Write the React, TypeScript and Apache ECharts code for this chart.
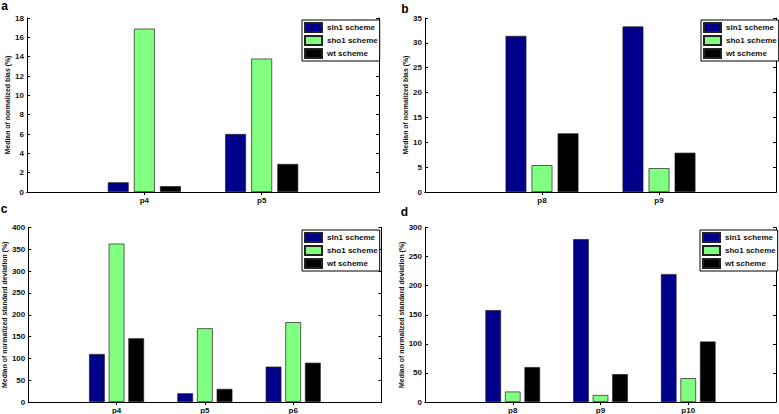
import React, { useEffect, useRef } from "react";
import * as echarts from "echarts";

const schemes = ["sln1 scheme", "sho1 scheme", "wt scheme"];
const colors = ["#000088", "#80ff80", "#000000"];

const catsA = ["p4", "p5"];
const sln1A = [1.0, 6.0];
const sho1A = [16.9, 13.8];
const wtA = [0.6, 2.9];

const catsB = ["p8", "p9"];
const sln1B = [31.4, 33.3];
const sho1B = [5.4, 4.8];
const wtB = [11.8, 7.9];

const catsC = ["p4", "p5", "p6"];
const sln1C = [110, 20, 81];
const sho1C = [363, 169, 183];
const wtC = [146, 30, 90];

const catsD = ["p8", "p9", "p10"];
const sln1D = [158, 280, 220];
const sho1D = [18, 12, 41];
const wtD = [60, 48, 104];

const yMaxA = 18, yStepA = 2;
const yMaxB = 35, yStepB = 5;
const yMaxC = 400, yStepC = 50;
const yMaxD = 300, yStepD = 50;

const nameBias = "Median of normalized bias (%)";
const nameStd = "Median of normalized standard deviation (%)";

const FONT = "'Liberation Sans', Arial, Helvetica, sans-serif";

export default function App() {
  const ref = useRef<HTMLDivElement>(null);
  useEffect(() => {
    document.body.style.margin = "0";
    if (!ref.current) return;
    const chart = echarts.init(ref.current, undefined, { renderer: "svg" });

    const grids: any[] = [];
    const xAxes: any[] = [];
    const yAxes: any[] = [];
    const series: any[] = [];
    const legends: any[] = [];

    const panel = (
      i: number,
      cats: string[],
      vals: number[][],
      yMax: number,
      yStep: number,
      name: string,
      g: { left: number; top: number; width: number; height: number },
      nameGap: number,
      lg: { left: number; top: number }
    ) => {
      grids.push({ ...g, show: false, containLabel: false });
      const padCats = ["", ...cats, ""];
      const tickInt = (_: number, v: string) => v !== "";
      const lineStyle = { color: "#000", width: 1 };
      xAxes.push({
        type: "category",
        gridIndex: i,
        position: "bottom",
        data: padCats,
        boundaryGap: false,
        axisLine: { show: true, lineStyle },
        axisTick: { show: true, inside: true, length: 3, interval: tickInt, lineStyle },
        axisLabel: { interval: 0, margin: 4, fontSize: 8, fontWeight: "bold", color: "#111", fontFamily: FONT },
        splitLine: { show: false },
      });
      xAxes.push({
        type: "category",
        gridIndex: i,
        position: "top",
        data: padCats,
        boundaryGap: false,
        axisLine: { show: true, lineStyle },
        axisTick: { show: true, inside: true, length: 3, interval: tickInt, lineStyle },
        axisLabel: { show: false },
        splitLine: { show: false },
      });
      yAxes.push({
        type: "value",
        gridIndex: i,
        position: "left",
        min: 0,
        max: yMax,
        interval: yStep,
        name,
        nameLocation: "middle",
        nameGap,
        nameTextStyle: { fontSize: 6.9, fontWeight: "bold", color: "#111", fontFamily: FONT },
        axisLine: { show: true, lineStyle },
        axisTick: { show: true, inside: true, length: 3, lineStyle },
        axisLabel: { margin: 3, fontSize: 8, fontWeight: "bold", color: "#111", fontFamily: FONT },
        splitLine: { show: false },
      });
      yAxes.push({
        type: "value",
        gridIndex: i,
        position: "right",
        min: 0,
        max: yMax,
        interval: yStep,
        axisLine: { show: true, lineStyle },
        axisTick: { show: true, inside: true, length: 3, lineStyle },
        axisLabel: { show: false },
        splitLine: { show: false },
      });
      vals.forEach((v, k) => {
        series.push({
          type: "bar",
          name: schemes[k],
          xAxisIndex: 2 * i,
          yAxisIndex: 2 * i,
          data: ["-", ...v, "-"],
          barWidth: "17.8%",
          barGap: "25%",
          silent: true,
          itemStyle: { color: colors[k], borderColor: "#222", borderWidth: 0.7 },
        });
      });
      legends.push({
        left: lg.left,
        top: lg.top,
        orient: "vertical",
        data: schemes,
        icon: "rect",
        itemWidth: 17,
        itemHeight: 9,
        itemGap: 2,
        padding: [2, 2, 2, 2],
        borderColor: "#000",
        borderWidth: 1,
        backgroundColor: "#fff",
        selectedMode: false,
        textStyle: { fontSize: 8, fontWeight: "bold", color: "#111", fontFamily: FONT, padding: 0 },
      });
    };

    panel(0, catsA, [sln1A, sho1A, wtA], yMaxA, yStepA, nameBias,
      { left: 27, top: 18, width: 352, height: 174 }, 14, { left: 302, top: 20 });
    panel(1, catsB, [sln1B, sho1B, wtB], yMaxB, yStepB, nameBias,
      { left: 425, top: 18, width: 352, height: 174 }, 11, { left: 701, top: 20 });
    panel(2, catsC, [sln1C, sho1C, wtC], yMaxC, yStepC, nameStd,
      { left: 26.5, top: 227.5, width: 355, height: 175 }, 13, { left: 302, top: 230 });
    panel(3, catsD, [sln1D, sho1D, wtD], yMaxD, yStepD, nameStd,
      { left: 425, top: 227.5, width: 352, height: 175 }, 9, { left: 700, top: 230 });

    const letter = (t: string, x: number, y: number) => ({
      type: "text",
      x,
      y,
      style: {
        text: t,
        fontSize: 12,
        fontWeight: "bold",
        fontFamily: FONT,
        fill: "#000",
        align: "center",
        verticalAlign: "middle",
      },
    });

    chart.setOption({
      animation: false,
      backgroundColor: "#fff",
      grid: grids,
      xAxis: xAxes,
      yAxis: yAxes,
      series,
      legend: legends,
      graphic: [
        letter("a", 4.5, 6),
        letter("b", 405, 8.5),
        letter("c", 4, 209),
        letter("d", 404.5, 212),
      ],
    });
    return () => chart.dispose();
  }, []);
  return <div ref={ref} style={{ width: 779, height: 414 }} />;
}
